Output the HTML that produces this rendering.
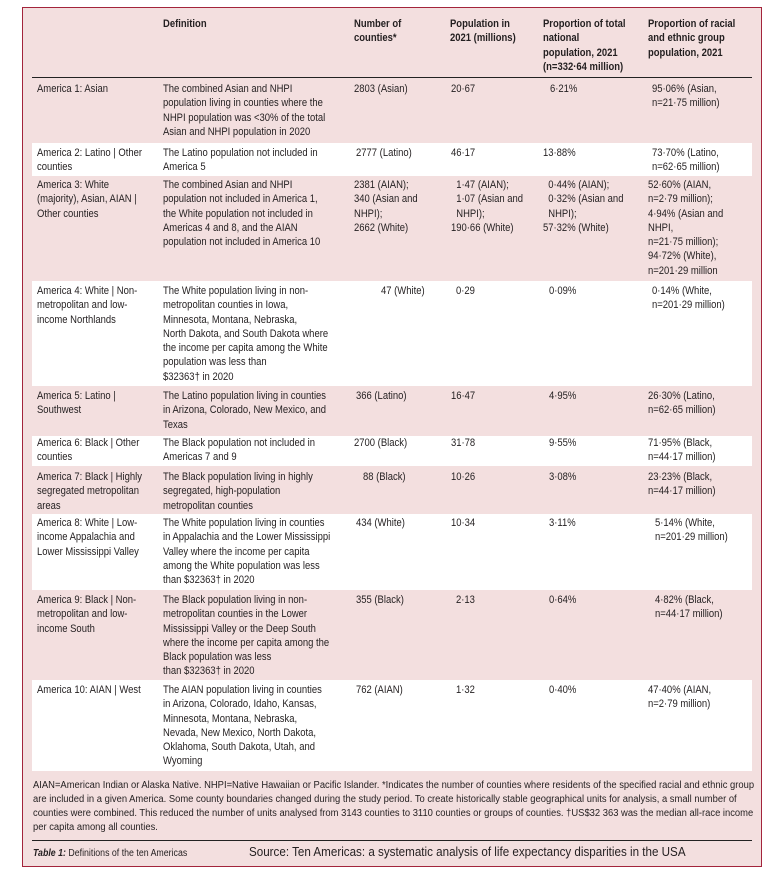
<!DOCTYPE html>
<html><head><meta charset="utf-8"><style>
html,body{margin:0;padding:0;background:#fff;}
#w{position:relative;width:778px;height:874px;overflow:hidden;background:#fff;font-family:"Liberation Sans",sans-serif;color:#231f20;}
#box{position:absolute;left:22px;top:7px;width:738px;height:858px;border:1.5px solid #a3243b;background:#f3dfdf;}
.row{position:absolute;left:32px;width:720px;background:#fff;}
.c{position:absolute;font-size:11px;line-height:14.3px;white-space:nowrap;transform:scaleX(.86);transform-origin:0 0;}
.h{font-weight:bold;}
.f{position:absolute;left:33px;font-size:10px;line-height:14px;white-space:nowrap;transform:scaleX(.94);transform-origin:0 0;}
</style></head><body><div id="w">
<div id="box"></div>
<div style="position:absolute;left:32px;top:77px;width:720px;height:1px;background:#222"></div>
<div class="row" style="top:143px;height:33px"></div>
<div class="row" style="top:281px;height:105px"></div>
<div class="row" style="top:436px;height:30px"></div>
<div class="row" style="top:514px;height:76px"></div>
<div class="row" style="top:680px;height:91px"></div>
<div style="position:absolute;left:32px;top:840px;width:720px;height:1px;background:#222"></div>

<div class="c h" style="left:163px;top:17px">Definition</div>
<div class="c h" style="left:354px;top:17px">Number of<br>counties*</div>
<div class="c h" style="left:450px;top:17px">Population in<br>2021 (millions)</div>
<div class="c h" style="left:543px;top:17px">Proportion of total<br>national<br>population, 2021<br>(n=332·64 million)</div>
<div class="c h" style="left:648px;top:17px">Proportion of racial<br>and ethnic group<br>population, 2021</div>

<div class="c" style="left:37px;top:82px">America 1: Asian</div>
<div class="c" style="left:163px;top:82px">The combined Asian and NHPI<br>population living in counties where the<br>NHPI population was &lt;30% of the total<br>Asian and NHPI population in 2020</div>
<div class="c" style="left:354px;top:82px">2803 (Asian)</div>
<div class="c" style="left:451px;top:82px">20·67</div>
<div class="c" style="left:550px;top:82px">6·21%</div>
<div class="c" style="left:652px;top:82px">95·06% (Asian,<br>n=21·75 million)</div>

<div class="c" style="left:37px;top:146px">America 2: Latino | Other<br>counties</div>
<div class="c" style="left:163px;top:146px">The Latino population not included in<br>America 5</div>
<div class="c" style="left:356px;top:146px">2777 (Latino)</div>
<div class="c" style="left:451px;top:146px">46·17</div>
<div class="c" style="left:543px;top:146px">13·88%</div>
<div class="c" style="left:652px;top:146px">73·70% (Latino,<br>n=62·65 million)</div>

<div class="c" style="left:37px;top:178px">America 3: White<br>(majority), Asian, AIAN |<br>Other counties</div>
<div class="c" style="left:163px;top:178px">The combined Asian and NHPI<br>population not included in America 1,<br>the White population not included in<br>Americas 4 and 8, and the AIAN<br>population not included in America 10</div>
<div class="c" style="left:354px;top:178px">2381 (AIAN);<br>340 (Asian and<br>NHPI);<br>2662 (White)</div>
<div class="c" style="left:451px;top:178px">&nbsp;&nbsp;1·47 (AIAN);<br>&nbsp;&nbsp;1·07 (Asian and<br>&nbsp;&nbsp;NHPI);<br>190·66 (White)</div>
<div class="c" style="left:543px;top:178px">&nbsp;&nbsp;0·44% (AIAN);<br>&nbsp;&nbsp;0·32% (Asian and<br>&nbsp;&nbsp;NHPI);<br>57·32% (White)</div>
<div class="c" style="left:648px;top:178px">52·60% (AIAN,<br>n=2·79 million);<br>4·94% (Asian and<br>NHPI,<br>n=21·75 million);<br>94·72% (White),<br>n=201·29 million</div>

<div class="c" style="left:37px;top:284px">America 4: White | Non-<br>metropolitan and low-<br>income Northlands</div>
<div class="c" style="left:163px;top:284px">The White population living in non-<br>metropolitan counties in Iowa,<br>Minnesota, Montana, Nebraska,<br>North Dakota, and South Dakota where<br>the income per capita among the White<br>population was less than<br>$32363† in 2020</div>
<div class="c" style="left:381px;top:284px">47 (White)</div>
<div class="c" style="left:456px;top:284px">0·29</div>
<div class="c" style="left:549px;top:284px">0·09%</div>
<div class="c" style="left:652px;top:284px">0·14% (White,<br>n=201·29 million)</div>

<div class="c" style="left:37px;top:389px">America 5: Latino |<br>Southwest</div>
<div class="c" style="left:163px;top:389px">The Latino population living in counties<br>in Arizona, Colorado, New Mexico, and<br>Texas</div>
<div class="c" style="left:356px;top:389px">366 (Latino)</div>
<div class="c" style="left:451px;top:389px">16·47</div>
<div class="c" style="left:549px;top:389px">4·95%</div>
<div class="c" style="left:648px;top:389px">26·30% (Latino,<br>n=62·65 million)</div>

<div class="c" style="left:37px;top:436px">America 6: Black | Other<br>counties</div>
<div class="c" style="left:163px;top:436px">The Black population not included in<br>Americas 7 and 9</div>
<div class="c" style="left:354px;top:436px">2700 (Black)</div>
<div class="c" style="left:451px;top:436px">31·78</div>
<div class="c" style="left:549px;top:436px">9·55%</div>
<div class="c" style="left:648px;top:436px">71·95% (Black,<br>n=44·17 million)</div>

<div class="c" style="left:37px;top:470px">America 7: Black | Highly<br>segregated metropolitan<br>areas</div>
<div class="c" style="left:163px;top:470px">The Black population living in highly<br>segregated, high-population<br>metropolitan counties</div>
<div class="c" style="left:363px;top:470px">88 (Black)</div>
<div class="c" style="left:451px;top:470px">10·26</div>
<div class="c" style="left:549px;top:470px">3·08%</div>
<div class="c" style="left:648px;top:470px">23·23% (Black,<br>n=44·17 million)</div>

<div class="c" style="left:37px;top:516px">America 8: White | Low-<br>income Appalachia and<br>Lower Mississippi Valley</div>
<div class="c" style="left:163px;top:516px">The White population living in counties<br>in Appalachia and the Lower Mississippi<br>Valley where the income per capita<br>among the White population was less<br>than $32363† in 2020</div>
<div class="c" style="left:356px;top:516px">434 (White)</div>
<div class="c" style="left:451px;top:516px">10·34</div>
<div class="c" style="left:549px;top:516px">3·11%</div>
<div class="c" style="left:655px;top:516px">5·14% (White,<br>n=201·29 million)</div>

<div class="c" style="left:37px;top:593px">America 9: Black | Non-<br>metropolitan and low-<br>income South</div>
<div class="c" style="left:163px;top:593px">The Black population living in non-<br>metropolitan counties in the Lower<br>Mississippi Valley or the Deep South<br>where the income per capita among the<br>Black population was less<br>than $32363† in 2020</div>
<div class="c" style="left:356px;top:593px">355 (Black)</div>
<div class="c" style="left:456px;top:593px">2·13</div>
<div class="c" style="left:549px;top:593px">0·64%</div>
<div class="c" style="left:655px;top:593px">4·82% (Black,<br>n=44·17 million)</div>

<div class="c" style="left:37px;top:683px">America 10: AIAN | West</div>
<div class="c" style="left:163px;top:683px">The AIAN population living in counties<br>in Arizona, Colorado, Idaho, Kansas,<br>Minnesota, Montana, Nebraska,<br>Nevada, New Mexico, North Dakota,<br>Oklahoma, South Dakota, Utah, and<br>Wyoming</div>
<div class="c" style="left:356px;top:683px">762 (AIAN)</div>
<div class="c" style="left:456px;top:683px">1·32</div>
<div class="c" style="left:549px;top:683px">0·40%</div>
<div class="c" style="left:648px;top:683px">47·40% (AIAN,<br>n=2·79 million)</div>

<div class="f" style="top:779px">AIAN=American Indian or Alaska Native. NHPI=Native Hawaiian or Pacific Islander. *Indicates the number of counties where residents of the specified racial and ethnic group<br>are included in a given America. Some county boundaries changed during the study period. To create historically stable geographical units for analysis, a small number of<br>counties were combined. This reduced the number of units analysed from 3143 counties to 3110 counties or groups of counties. †US$32 363 was the median all-race income<br>per capita among all counties.</div>
<div class="f" style="top:847px;transform:scaleX(.88)"><i style="font-weight:bold">Table 1:</i> Definitions of the ten Americas</div>
<div style="position:absolute;left:249px;top:845px;font-size:12.5px;white-space:nowrap;transform:scaleX(.93);transform-origin:0 0;">Source: Ten Americas: a systematic analysis of life expectancy disparities in the USA</div>
</div></body></html>
